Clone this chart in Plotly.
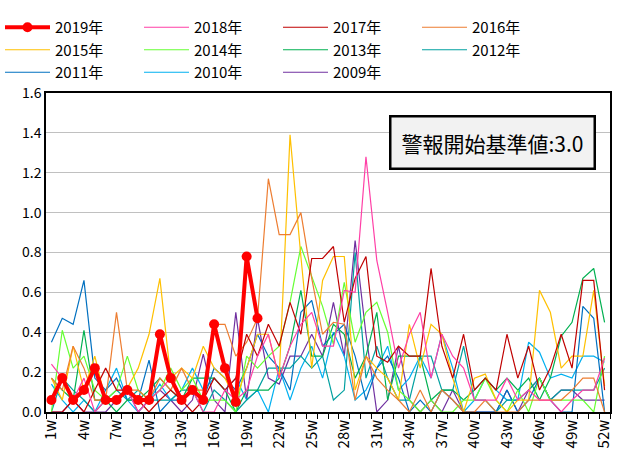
import plotly.graph_objects as go

weeks = [f"{i}w" for i in range(1, 53)]
label_every = 3
tick_labels = [w if i % label_every == 0 else "" for i, w in enumerate(weeks)]

y2019 = [0.06, 0.17, 0.06, 0.11, 0.22, 0.06, 0.06, 0.11, 0.06, 0.06,
         0.39, 0.17, 0.06, 0.11, 0.06, 0.44, 0.22, 0.05, 0.78, 0.47]
y2018 = [0.24, 0.17, 0.06, 0.17, 0.0, 0.06, 0.06, 0.11, 0.0, 0.06,
         0.11, 0.17, 0.06, 0.11, 0.0, 0.0, 0.11, 0.06, 0.11, 0.28,
         0.39, 0.17, 0.33, 0.44, 0.50, 0.33, 0.33, 0.61, 0.60, 1.28,
         0.76, 0.50, 0.22, 0.39, 0.50, 0.17, 0.39, 0.28, 0.22, 0.06,
         0.06, 0.06, 0.17, 0.06, 0.11, 0.06, 0.06, 0.0, 0.06, 0.11,
         0.11, 0.27]
y2017 = [0.0, 0.0, 0.06, 0.0, 0.11, 0.22, 0.11, 0.11, 0.06, 0.0,
         0.06, 0.11, 0.06, 0.0, 0.06, 0.17, 0.11, 0.17, 0.39, 0.28,
         0.44, 0.33, 0.55, 0.39, 0.77, 0.77, 0.83, 0.45, 0.67, 0.78,
         0.28, 0.25, 0.33, 0.28, 0.28, 0.72, 0.33, 0.17, 0.39, 0.11,
         0.17, 0.11, 0.39, 0.17, 0.33, 0.11, 0.22, 0.39, 0.22, 0.66,
         0.66, 0.11]
y2016 = [0.17, 0.11, 0.33, 0.22, 0.06, 0.06, 0.50, 0.11, 0.11, 0.06,
         0.17, 0.11, 0.22, 0.11, 0.11, 0.44, 0.44, 0.28, 0.35, 0.47,
         1.17, 0.89, 0.89, 1.00, 0.67, 0.39, 0.45, 0.44, 0.06, 0.28,
         0.17, 0.11, 0.06, 0.0, 0.11, 0.0, 0.11, 0.06, 0.0, 0.0,
         0.06, 0.0, 0.0, 0.0, 0.06, 0.06, 0.06, 0.06, 0.11, 0.17,
         0.17, 0.0]
y2015 = [0.17, 0.06, 0.33, 0.11, 0.28, 0.06, 0.06, 0.12, 0.22, 0.39,
         0.67, 0.17, 0.22, 0.17, 0.33, 0.22, 0.17, 0.06, 0.22, 0.39,
         0.39, 0.17, 1.39, 0.78, 0.22, 0.66, 0.78, 0.78, 0.11, 0.28,
         0.22, 0.17, 0.06, 0.44, 0.22, 0.44, 0.39, 0.17, 0.0, 0.17,
         0.19, 0.06, 0.0, 0.06, 0.06, 0.61, 0.50, 0.22, 0.28, 0.28,
         0.61, 0.13]
y2014 = [0.0, 0.41, 0.22, 0.28, 0.11, 0.06, 0.11, 0.28, 0.11, 0.06,
         0.11, 0.22, 0.11, 0.17, 0.06, 0.06, 0.06, 0.0, 0.28, 0.22,
         0.28, 0.33, 0.55, 0.83, 0.68, 0.53, 0.34, 0.65, 0.35, 0.50,
         0.55, 0.40, 0.11, 0.06, 0.0, 0.06, 0.0, 0.0, 0.06, 0.06,
         0.17, 0.06, 0.0, 0.11, 0.0, 0.17, 0.06, 0.06, 0.06, 0.06,
         0.0, 0.28]
y2013 = [0.17, 0.11, 0.06, 0.41, 0.06, 0.06, 0.0, 0.06, 0.06, 0.11,
         0.17, 0.11, 0.06, 0.17, 0.17, 0.17, 0.11, 0.0, 0.11, 0.11,
         0.11, 0.17, 0.33, 0.61, 0.28, 0.28, 0.44, 0.39, 0.17, 0.28,
         0.50, 0.06, 0.28, 0.28, 0.28, 0.06, 0.11, 0.11, 0.06, 0.11,
         0.17, 0.11, 0.17, 0.11, 0.17, 0.06, 0.17, 0.38, 0.45, 0.67,
         0.72, 0.45]
y2012 = [0.0, 0.17, 0.11, 0.06, 0.0, 0.06, 0.11, 0.06, 0.11, 0.06,
         0.06, 0.06, 0.11, 0.11, 0.0, 0.11, 0.06, 0.0, 0.06, 0.11,
         0.22, 0.22, 0.22, 0.28, 0.22, 0.28, 0.06, 0.11, 0.80, 0.17,
         0.33, 0.17, 0.06, 0.06, 0.28, 0.28, 0.11, 0.11, 0.33, 0.06,
         0.06, 0.0, 0.06, 0.06, 0.11, 0.17, 0.06, 0.11, 0.11, 0.11,
         0.11, 0.22]
y2011 = [0.35, 0.47, 0.44, 0.66, 0.17, 0.11, 0.17, 0.06, 0.06, 0.26,
         0.0, 0.06, 0.06, 0.11, 0.06, 0.22, 0.17, 0.11, 0.22, 0.39,
         0.28, 0.22, 0.11, 0.50, 0.56, 0.33, 0.39, 0.44, 0.28, 0.06,
         0.22, 0.28, 0.17, 0.0, 0.06, 0.0, 0.11, 0.06, 0.0, 0.0,
         0.0, 0.0, 0.11, 0.0, 0.06, 0.17, 0.06, 0.0, 0.0, 0.53,
         0.47, 0.0]
y2010 = [0.14, 0.06, 0.0, 0.06, 0.0, 0.11, 0.22, 0.06, 0.0, 0.06,
         0.14, 0.06, 0.11, 0.22, 0.11, 0.17, 0.11, 0.17, 0.06, 0.11,
         0.0, 0.22, 0.06, 0.22, 0.33, 0.17, 0.40, 0.28, 0.06, 0.11,
         0.22, 0.33, 0.11, 0.17, 0.28, 0.17, 0.39, 0.22, 0.0, 0.06,
         0.17, 0.11, 0.06, 0.06, 0.35, 0.30, 0.17, 0.19, 0.17, 0.28,
         0.28, 0.25]
y2009 = [0.0, 0.0, 0.06, 0.0, 0.0, 0.0, 0.06, 0.11, 0.0, 0.06,
         0.11, 0.06, 0.0, 0.06, 0.29, 0.06, 0.0, 0.50, 0.06, 0.47,
         0.17, 0.14, 0.28, 0.28, 0.39, 0.28, 0.55, 0.28, 0.86, 0.39,
         0.0, 0.06, 0.33, 0.06, 0.0, 0.06, 0.0, 0.11, 0.0, 0.0,
         0.0, 0.0, 0.11, 0.0, 0.11, 0.17, 0.06, 0.11, 0.11, 0.06,
         0.06, 0.06]

series = [
    ("2018年", y2018, "#FF3FA6"),
    ("2017年", y2017, "#C00000"),
    ("2016年", y2016, "#ED7D31"),
    ("2015年", y2015, "#FFC000"),
    ("2014年", y2014, "#66FF33"),
    ("2013年", y2013, "#00B050"),
    ("2012年", y2012, "#00A0A0"),
    ("2011年", y2011, "#0070C0"),
    ("2010年", y2010, "#00B0F0"),
    ("2009年", y2009, "#7030A0"),
]

FONT = "Noto Sans CJK JP, Noto Sans, sans-serif"
fig = go.Figure()
for rank, (name, vals, col) in reversed(list(enumerate(series, start=2))):
    fig.add_trace(go.Scatter(
        x=weeks, y=vals, name=name, mode="lines",
        line=dict(color=col, width=1.2), legendrank=rank,
    ))
fig.add_trace(go.Scatter(
    x=weeks[:len(y2019)], y=y2019, name="2019年", mode="lines+markers",
    line=dict(color="#FF0000", width=4), marker=dict(color="#FF0000", size=10),
    legendrank=1,
))

fig.update_layout(
    width=619, height=459,
    margin=dict(l=46, r=9, t=93, b=47),
    paper_bgcolor="white", plot_bgcolor="white",
    font=dict(family=FONT, size=14, color="#000000"),
    showlegend=True,
    legend=dict(
        orientation="h", xref="container", yref="container",
        x=0.0, y=0.976, xanchor="left", yanchor="top",
        entrywidth=79, entrywidthmode="pixels",
        font=dict(size=15, family=FONT, color="#000000"),
        traceorder="normal", itemwidth=45, bgcolor="rgba(0,0,0,0)",
    ),
    annotations=[dict(
        text="警報開始基準値:3.0", xref="paper", yref="paper",
        x=0.791, y=0.846, xanchor="center", yanchor="middle", showarrow=False,
        font=dict(size=21, family=FONT, color="#000000"),
        bgcolor="#F2F2F2", bordercolor="#000000", borderwidth=2.5, borderpad=10,
    )],
)
fig.update_xaxes(
    type="category", categoryorder="array", categoryarray=weeks,
    range=[-0.5, 51.5], tickmode="array", tickvals=weeks,
    ticktext=tick_labels, tickangle=-90, ticks="outside", tickson="boundaries",
    ticklen=5, tickcolor="#000000", showgrid=False,
    showline=True, linecolor="#000000", linewidth=1.5, mirror=True,
    tickfont=dict(size=15, family=FONT, color="#000000"),
    zeroline=False, automargin=False,
)
fig.update_yaxes(
    range=[0, 1.6], dtick=0.2, tickformat=".1f", showgrid=True,
    gridcolor="#C0C0C0", gridwidth=1, showline=True, linecolor="#000000",
    linewidth=1.5, mirror=True, ticks="", zeroline=False,
    tickfont=dict(size=14, family=FONT, color="#000000"), automargin=False,
)

fig.write_html(
    "out.html",
    config={"displayModeBar": False},
    post_script="document.body.style.margin='0';document.body.style.overflow='hidden';",
)
